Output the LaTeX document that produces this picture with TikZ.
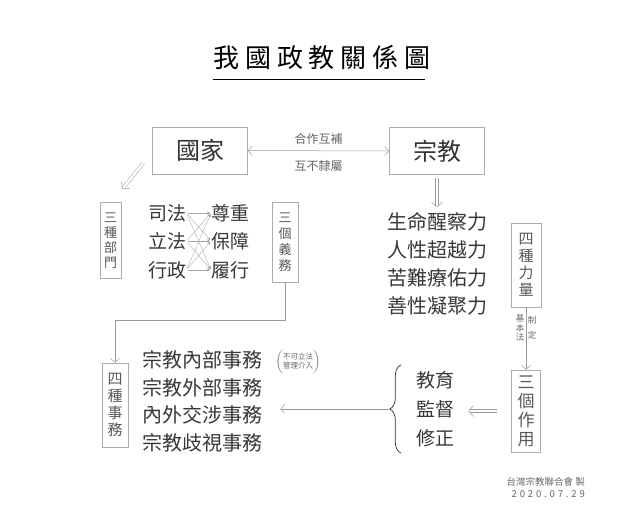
\documentclass[tikz,border=0pt]{standalone}
\usepackage{fontspec}
\setmainfont{Noto Sans CJK TC}
\usetikzlibrary{arrows.meta, positioning, calc, decorations.pathreplacing}

\begin{document}
\begin{tikzpicture}[x=1pt, y=-1pt,
  main/.style={rectangle, draw=gray!65, line width=0.6pt, minimum width=95pt, minimum height=47pt, inner sep=0pt, text=black!80, font=\fontsize{24}{24}\selectfont},
  vbox/.style={rectangle, draw=gray!65, line width=0.6pt, align=center, inner sep=0pt, text=black!65},
  lst/.style={align=left, inner sep=0pt, text=black!78, font=\fontsize{19}{28}\selectfont},
  lbl/.style={inner sep=1pt, text=black!60, font=\fontsize{12}{12}\selectfont},
  arr/.style={-{Straight Barb[length=4pt, width=9pt]}, draw=gray!80, line width=0.5pt},
  xarr/.style={-{Stealth[length=3pt, width=3pt]}, draw=gray!70, line width=0.35pt},
  dbl/.style={double distance=2.6pt, line width=0.45pt, draw=gray!80},
  dtip/.style={draw=white, line width=0.5pt, -{Straight Barb[length=5pt, width=11pt, color=gray!80]}}]
\useasboundingbox[fill=white] (0,0) rectangle (639,522);
% title
\node[inner sep=0pt, text=black, font=\fontsize{26}{26}\selectfont\addfontfeature{LetterSpace=22}] (title) at (322,57) {我國政教關係圖};
\draw[line width=1.2pt] ([yshift=-10pt, xshift=-1pt]title.south west) -- ([yshift=-10pt, xshift=-5pt]title.south east);
% state and religion
\node[main] (st) at (200,150.5) {國家};
\node[main] (rl) at (437,151) {宗教};
\draw[arr, {Straight Barb[length=4pt, width=9pt]}-{Straight Barb[length=4pt, width=9pt]}] (st) -- (rl)
  node[lbl, midway, above=5pt] {合作互補} node[lbl, midway, below=8pt] {互不隸屬};
% state side
\node[vbox, minimum width=21pt, minimum height=76pt, font=\fontsize{13}{15}\selectfont] (br) at (110.5,240.5) {三\\種\\部\\門};
\node[lst, anchor=west] (l1) at (148,213) {司法};
\node[lst, anchor=west] (l2) at (148,241) {立法};
\node[lst, anchor=west] (l3) at (148,270) {行政};
\node[lst, anchor=west] (r1) at (211,213) {尊重};
\node[lst, anchor=west] (r2) at (211,241) {保障};
\node[lst, anchor=west] (r3) at (211,270) {履行};
\foreach \i in {1,2,3} \foreach \j in {1,2,3} \draw[xarr, shorten <=2pt, shorten >=1pt] (l\i.east) -- (r\j.west);
\node[vbox, minimum width=26pt, minimum height=80pt, font=\fontsize{13}{16}\selectfont] (du) at (285,242) {三\\個\\義\\務};
\coordinate (s1) at ([xshift=-9pt, yshift=11pt]st.south west);
\coordinate (s2) at ([xshift=1pt, yshift=13pt]br.north east);
\draw[dbl, shorten >=1.4pt] (s1) -- (s2);
\draw[dtip] ($(s2)!0.5pt!(s1)$) -- (s2);
% four affairs
\node[vbox, minimum width=26pt, minimum height=84pt, font=\fontsize{15}{17}\selectfont] (af) at (115,405) {四\\種\\事\\務};
\node[lst, anchor=west, font=\fontsize{20}{27.7}\selectfont] (sw) at (142,401.5) {宗教內部事務\\宗教外部事務\\內外交涉事務\\宗教歧視事務};
\node[inner sep=0pt, text=black!60] (nt) at (298,362) {$\left(\rule[-10pt]{0pt}{21pt}\mbox{\fontsize{7.5}{9}\selectfont\begin{tabular}{@{}c@{}}不可立法\\管理介入\end{tabular}}\right)$};
\draw[arr] (du.south) -- ++(0,38) -| (af.north);
% religion side
\node[lst, font=\fontsize{20}{28}\selectfont] (fl) at (437,264) {生命醒察力\\人性超越力\\苦難療佑力\\善性凝聚力};
\draw[dbl, shorten <=3pt, shorten >=6.4pt] (rl.south) -- (fl.north);
\draw[dtip] ($(fl.north)!5.5pt!(rl.south)$) -- ($(fl.north)!5pt!(rl.south)$);
\node[vbox, minimum width=30pt, minimum height=84pt, font=\fontsize{15}{17}\selectfont] (pw) at (526,265) {四\\種\\力\\量};
\node[vbox, minimum width=29pt, minimum height=82pt, font=\fontsize{17}{19}\selectfont] (fn) at (526,411) {三\\個\\作\\用};
\draw[arr] (pw) -- (fn)
  node[pos=0.33, left=1.5pt, inner sep=0pt, text=black!60, align=center, font=\fontsize{8.5}{9.5}\selectfont] {基\\本\\法}
  node[pos=0.33, right=1.5pt, inner sep=0pt, text=black!60, align=center, font=\fontsize{8.5}{9.5}\selectfont] {制\\[5pt]定};
% three functions
\node[lst, font=\fontsize{19}{29}\selectfont] (ed) at (435,409) {教育\\監督\\修正};
\coordinate (e1) at ([xshift=-14pt]fn.west);
\coordinate (e2) at ([xshift=14pt]fn.west -| ed.east);
\draw[dbl, shorten >=1.4pt] (e1) -- (e2);
\draw[dtip] ($(e2)!0.5pt!(e1)$) -- (e2);
\draw[decorate, decoration={brace, amplitude=11pt}, line width=0.7pt, black!80] ([xshift=-15pt, yshift=-6pt]ed.south west) -- ([xshift=-15pt, yshift=6pt]ed.north west);
\coordinate (bt) at ([xshift=-27pt]ed.west);
\draw[arr, shorten >=18pt] (bt) -- (bt -| sw.east);
% credit
\node[anchor=north east, align=right, inner sep=0pt, text=black!60, font=\fontsize{9.5}{12}\selectfont] (cr) at (585,477) {台灣宗教聯合會 製\\{\addfontfeature{LetterSpace=30}2020.07.29}};
\end{tikzpicture}
\end{document}
